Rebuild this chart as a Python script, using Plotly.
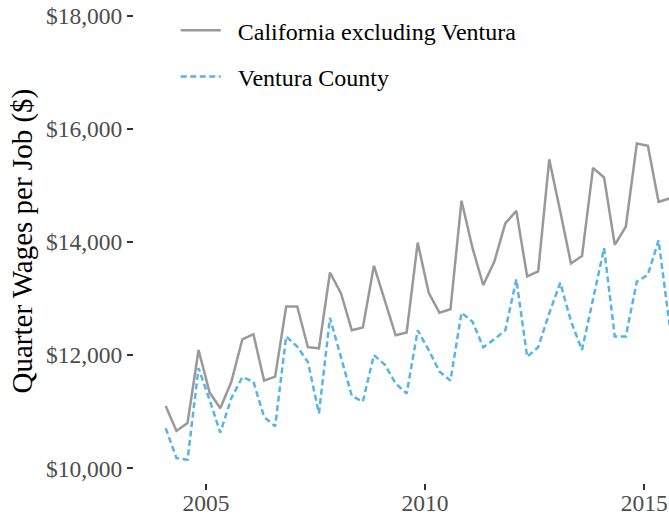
import pandas as pd
import plotly.graph_objects as go

# Quarterly observations, 2004 Q1 onward
quarters = pd.date_range("2004-02-01", periods=47, freq="3MS")

california_excl_ventura = [
    11100, 10660, 10800, 12090, 11340, 11060, 11530, 12280, 12370, 11550,
    11620, 12860, 12860, 12140, 12120, 13460, 13090, 12440, 12490, 13580,
    12960, 12350, 12400, 13990, 13100, 12750, 12810, 14730, 13890, 13240,
    13650, 14330, 14550, 13390, 13480, 15460, 14540, 13620, 13750, 15310,
    15140, 13950, 14270, 15740, 15700, 14710, 14770,
]

ventura_county = [
    10710, 10180, 10150, 11770, 11210, 10630, 11240, 11610, 11530, 10910,
    10740, 12330, 12150, 11880, 10970, 12660, 11960, 11280, 11180, 12000,
    11830, 11500, 11320, 12440, 12090, 11710, 11550, 12750, 12590, 12140,
    12280, 12440, 13340, 11970, 12140, 12740, 13280, 12600, 12090, 12990,
    13890, 12330, 12330, 13300, 13420, 14030, 12530,
]

series_names = ["California excluding Ventura", "Ventura County"]
y_ticks = [10000, 12000, 14000, 16000, 18000]
y_tick_labels = ["$10,000", "$12,000", "$14,000", "$16,000", "$18,000"]
x_ticks = ["2005-01-01", "2010-01-01", "2015-01-01"]
x_tick_labels = ["2005", "2010", "2015"]
y_title = "Quarter Wages per Job ($)"

FONT = "Liberation Serif"
PAD = "\u00a0\u00a0"

fig = go.Figure()
fig.add_trace(go.Scatter(
    x=quarters, y=california_excl_ventura, name=PAD + series_names[0],
    mode="lines", line=dict(color="#999999", width=2.5),
    legendgroup="a",
))
fig.add_trace(go.Scatter(
    x=quarters, y=ventura_county, name=PAD + series_names[1],
    mode="lines", line=dict(color="#56B4E9", width=2.5, dash="6px,3.5px"),
    legendgroup="b",
))

fig.update_layout(
    width=669, height=516,
    margin=dict(l=134, r=0, t=0, b=33),
    paper_bgcolor="white", plot_bgcolor="white",
    font=dict(family=FONT, color="#4D4D4D", size=23.5),
    showlegend=True,
    legend=dict(
        x=0.078, y=0.983, xanchor="left", yanchor="top",
        bgcolor="rgba(0,0,0,0)",
        font=dict(family=FONT, size=24, color="#000000"),
        tracegroupgap=12,
        itemwidth=40,
    ),
    xaxis=dict(
        range=["2003-05-13", "2015-07-27"],
        tickvals=x_ticks, ticktext=x_tick_labels,
        showgrid=False, zeroline=False, showline=False,
        ticks="outside", ticklen=6, tickwidth=1.5, tickcolor="#333333",
        tickfont=dict(family=FONT, size=23.5, color="#4D4D4D"),
        automargin=False, ticklabelstandoff=-7,
    ),
    yaxis=dict(
        range=[9740, 18277],
        tickvals=y_ticks, ticktext=y_tick_labels,
        showgrid=False, zeroline=False, showline=False,
        ticks="outside", ticklen=6, tickwidth=1.5, tickcolor="#333333",
        tickfont=dict(family=FONT, size=23.5, color="#4D4D4D"),
        automargin=False,
    ),
    annotations=[dict(
        text=y_title, textangle=-90,
        xref="paper", yref="paper", x=-0.2093, y=0.5,
        xanchor="center", yanchor="middle", showarrow=False,
        font=dict(family=FONT, size=29, color="#000000"),
    )],
)

fig.write_html(
    "out.html",
    config={"displayModeBar": False},
    post_script="document.body.style.margin='0';document.body.style.overflow='hidden';",
)
